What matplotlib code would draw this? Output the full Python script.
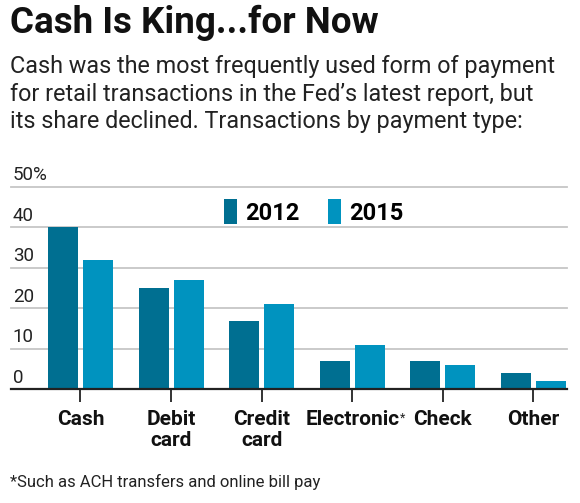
import matplotlib
matplotlib.use("Agg")
import matplotlib.pyplot as plt
import numpy as np

categories = ["Cash", "Debit\ncard", "Credit\ncard", "Electronic", "Check", "Other"]
values_2012 = [40, 25, 17, 7, 7, 4]
values_2015 = [32, 27, 21, 11, 6, 2]
series_names = ["2012", "2015"]
ytick_values = [0, 10, 20, 30, 40, 50]
ytick_labels = ["0", "10", "20", "30", "40", "50%"]

C12 = "#006f91"
C15 = "#0093bf"
FONT = ["Roboto", "DejaVu Sans"]

W, H = 580, 503
fig = plt.figure(figsize=(W / 100, H / 100), dpi=100)
fig.patch.set_facecolor("white")

left_px, right_px = 11, 567
base_px, top_px = 389.3, 187.0
ax = fig.add_axes([left_px / W, 1 - base_px / H, (right_px - left_px) / W, (base_px - top_px) / H])

x = np.arange(len(categories))
bw = 0.331
off = 0.193
b1 = ax.bar(x - off, values_2012, bw, color=C12, zorder=3, label=series_names[0])
b2 = ax.bar(x + off, values_2015, bw, color=C15, zorder=3, label=series_names[1])

ax.set_xlim(-0.767, 5.37)
ax.set_ylim(0, 50)
for v in ytick_values[1:]:
    ax.axhline(v, color="#c6c6c6", lw=1.3, zorder=1, clip_on=False)
for v, lab in zip(ytick_values, ytick_labels):
    ax.annotate(lab, xy=(0, v), xycoords=("axes fraction", "data"),
                xytext=(1.2, 4.8), textcoords="offset points",
                ha="left", va="baseline", fontsize=13.5, color="#222222",
                family=FONT)

for s in ["top", "right", "left"]:
    ax.spines[s].set_visible(False)
ax.spines["bottom"].set_color("#222222")
ax.spines["bottom"].set_linewidth(1.6)
ax.spines["bottom"].set_zorder(4)
ax.set_yticks([])
ax.set_xticks(x)
ax.set_xticklabels(categories, fontsize=15, fontweight="bold", family=FONT,
                   linespacing=1.1, color="#111111")
ax.tick_params(axis="x", length=9, width=1.3, color="#222222", pad=6)

leg = ax.legend(handles=[b1, b2], loc="upper left", bbox_to_anchor=(0.345, 1.045),
                ncol=2, frameon=False, handlelength=0.55, handleheight=1.25,
                handletextpad=0.35, columnspacing=1.2,
                prop={"family": FONT, "weight": "bold", "size": 17})

fig.text(10 / W, 1 - 5 / H, "Cash Is King...for Now", ha="left", va="top",
         fontsize=26.5, fontweight="bold", family=FONT, color="#111111")
fig.text(10 / W, 1 - 55 / H,
         "Cash was the most frequently used form of payment\n"
         "for retail transactions in the Fed\u2019s latest report, but\n"
         "its share declined. Transactions by payment type:",
         ha="left", va="top", fontsize=16.8, family=FONT, color="#222222",
         linespacing=1.26)
fig.text(10 / W, 1 - 474 / H, "*Such as ACH transfers and online bill pay",
         ha="left", va="top", fontsize=12, family=FONT, color="#222222")

# superscript asterisk after "Electronic"
fig.canvas.draw()
lab = ax.get_xticklabels()[3]
bb = lab.get_window_extent()
fig.text((bb.x1 + 1) / W, (bb.y1 - 1) / H, "*", ha="left", va="top",
         fontsize=9, family=FONT, color="#222222")

fig.savefig("out.png", dpi=100, facecolor="white")
